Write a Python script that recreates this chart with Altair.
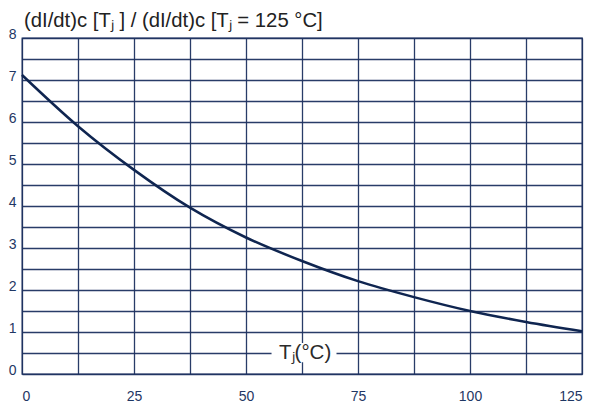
import altair as alt
import pandas as pd

# data
tj = [0, 12.5, 25, 37.5, 50, 62.5, 75, 87.5, 100, 112.5, 125]
ratio = [7.12, 5.9, 4.86, 3.96, 3.25, 2.69, 2.21, 1.83, 1.5, 1.24, 1.02]

x_grid = [0, 12.5, 25, 37.5, 50, 62.5, 75, 87.5, 100, 112.5, 125]
y_grid = [0, 0.5, 1, 1.5, 2, 2.5, 3, 3.5, 4, 4.5, 5, 5.5, 6, 6.5, 7, 7.5, 8]

title_text = ["(dI/dt)c [T\u2C7C ] / (dI/dt)c [T\u2C7C = 125 \u00B0C]"]
xlabel_text = ["T\u2C7C(\u00B0C)"]
xlabel_pos = [63.2]
xlabel_y = [0.5]
box_x = [55.7]
box_x2 = [70.2]
box_y = [0.28]
box_y2 = [0.74]

NAVY = "#1e3260"
FONT = "Liberation Sans"

df = pd.DataFrame({"tj": tj, "ratio": ratio})
lab = pd.DataFrame({"x": xlabel_pos, "y": xlabel_y, "t": xlabel_text})
box = pd.DataFrame({"x": box_x, "x2": box_x2, "y": box_y, "y2": box_y2})
ttl = pd.DataFrame({"t": title_text})

xscale = alt.Scale(domain=[0, 125], nice=False, zero=False)
yscale = alt.Scale(domain=[0, 8], nice=False)

xaxis = alt.Axis(
    values=x_grid, title=None, grid=True, domain=False, ticks=False,
    labelPadding=15,
    labelExpr="datum.value % 25 == 0 ? format(datum.value, 'd') : ''",
)
yaxis = alt.Axis(
    values=y_grid, title=None, grid=True, domain=False, ticks=False,
    labelPadding=6, labelBaseline="alphabetic",
    labelExpr="datum.value % 1 == 0 ? format(datum.value, 'd') : ''",
)

curve = alt.Chart(df).mark_line(
    color="#0f2550", strokeWidth=2.5, interpolate="monotone"
).encode(
    x=alt.X("tj:Q", scale=xscale, axis=xaxis),
    y=alt.Y("ratio:Q", scale=yscale, axis=yaxis),
)

whitebox = alt.Chart(box).mark_rect(color="white").encode(
    x=alt.X("x:Q", scale=xscale, axis=xaxis),
    x2="x2:Q",
    y=alt.Y("y:Q", scale=yscale, axis=yaxis),
    y2="y2:Q",
)

xlabel = alt.Chart(lab).mark_text(
    font=FONT, fontSize=20.5, color="#2b2b2b", baseline="middle", align="center"
).encode(
    x=alt.X("x:Q", scale=xscale, axis=xaxis),
    y=alt.Y("y:Q", scale=yscale, axis=yaxis),
    text="t:N",
)

title = alt.Chart(ttl).mark_text(
    font=FONT, fontSize=20.3, color="#222222", baseline="alphabetic", align="left"
).encode(
    x=alt.value(2),
    y=alt.value(-11),
    text="t:N",
)

chart = alt.layer(curve, whitebox, xlabel, title).properties(
    width=560,
    height=336,
    background="white",
    autosize=alt.AutoSizeParams(type="none"),
    padding={"left": 14, "top": 30, "right": 13, "bottom": 30},
).configure_axis(
    gridColor=NAVY, gridWidth=1.3, gridOpacity=0.95,
    labelFontSize=14, labelColor="#1f3764", labelFont=FONT,
).configure_view(stroke=NAVY, strokeWidth=1.3)

chart.save("out.html", embed_options={"renderer": "svg", "actions": False})
